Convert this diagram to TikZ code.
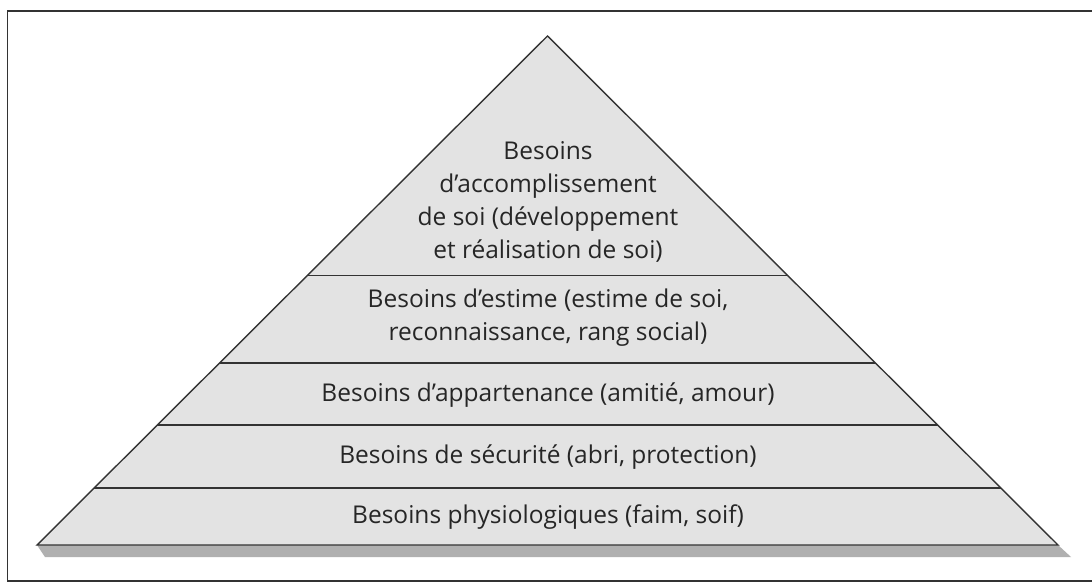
\documentclass[tikz,border=0pt]{standalone}
\usepackage{fontspec}
\setmainfont{Open Sans}
\usetikzlibrary{positioning, calc}
\definecolor{layerfill}{HTML}{E3E3E3}
\definecolor{shadowgrey}{HTML}{B0B0B0}
\definecolor{edgegrey}{HTML}{333333}
\tikzstyle{label} = [align=center, font=\fontsize{24.5}{33}\selectfont, text=black!85, inner sep=0pt]
\tikzstyle{divider} = [draw=edgegrey, line width=1.3pt]

\begin{document}
\begin{tikzpicture}[x=1pt, y=-1pt]
\useasboundingbox (0,0) rectangle (1092,583);
\fill[white] (0,0) rectangle (1092,583);
% frame
\draw[edgegrey, line width=1.6pt] (1092,11) -- (7.5,11) -- (7.5,581) -- (1092,581);

\coordinate (apex) at (547.5,36);
\coordinate (bl) at (37,545);
\coordinate (br) at (1058,545);

% shadow under the base
\fill[shadowgrey] (bl) -- (br) -- (1071,557) -- (45,557) -- cycle;
% pyramid
\filldraw[fill=layerfill, draw=edgegrey, line width=1.4pt, line join=miter] (apex) -- (br) -- (bl) -- cycle;

% layers
\draw[divider] ($(bl)!0.5295!(apex)$) -- ($(br)!0.5295!(apex)$);
\draw[divider] ($(bl)!0.3576!(apex)$) -- ($(br)!0.3576!(apex)$);
\draw[divider] ($(bl)!0.2358!(apex)$) -- ($(br)!0.2358!(apex)$);
\draw[divider] ($(bl)!0.1120!(apex)$) -- ($(br)!0.1120!(apex)$);

\node (self) [label] at (548,202) {Besoins\\d’accomplissement\\de soi (développement\\et réalisation de soi)};
\node (esteem) [label] at (548,318) {Besoins d’estime (estime de soi,\\reconnaissance, rang social)};
\node (belong) [label] at (548,395) {Besoins d’appartenance (amitié, amour)};
\node (safety) [label] at (548,457) {Besoins de sécurité (abri, protection)};
\node (physio) [label] at (548,517) {Besoins physiologiques (faim, soif)};
\end{tikzpicture}
\end{document}
